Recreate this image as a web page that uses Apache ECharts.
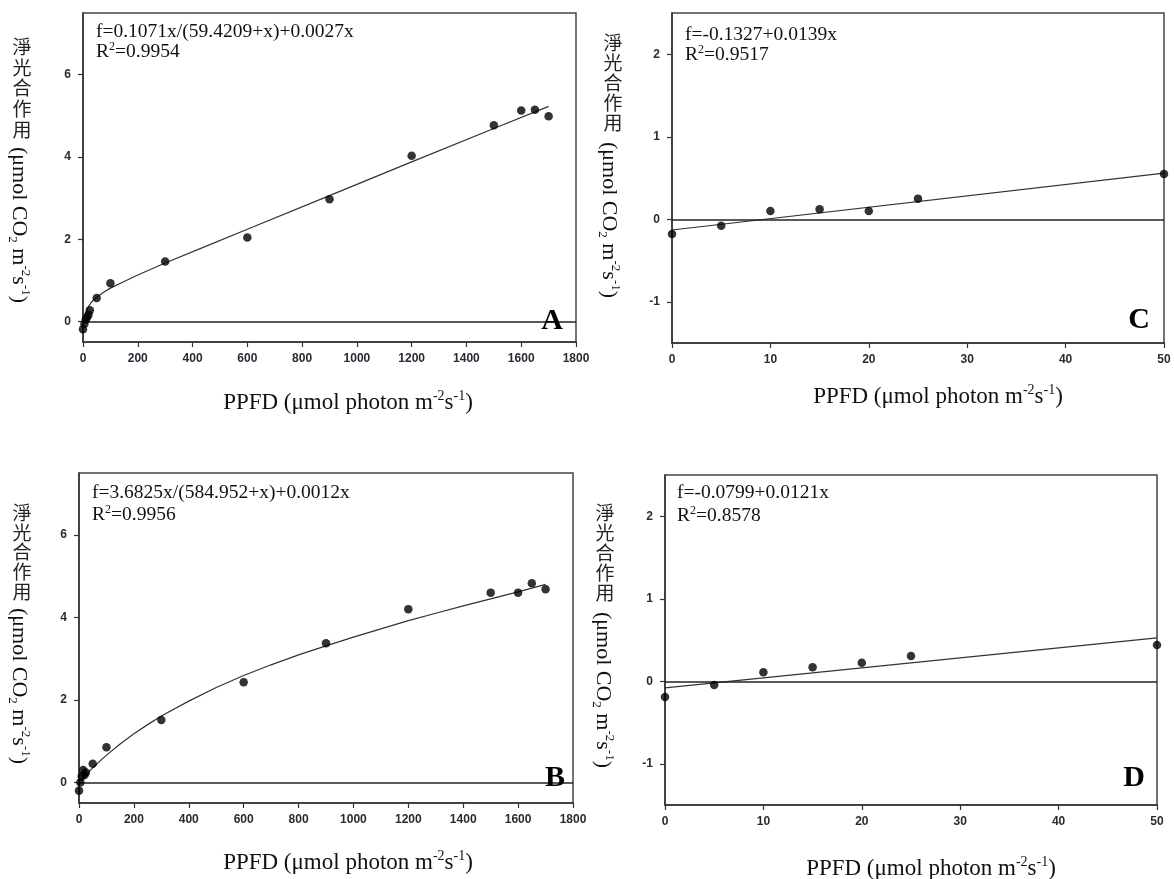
<!DOCTYPE html>
<html>
<head>
<meta charset="utf-8">
<script src="https://cdn.jsdelivr.net/npm/echarts@6/dist/echarts.min.js"></script>
<style>
html,body{margin:0;padding:0;background:#fff;}
#c{width:1174px;height:879px;}
</style>
</head>
<body>
<div id="c"></div>
<script>
// ---------- data ----------
const aX = [0, 5, 10, 15, 20, 25, 50, 100, 300, 600, 900, 1200, 1500, 1600, 1650, 1700];
const aY = [-0.19, -0.06, 0.04, 0.10, 0.16, 0.27, 0.57, 0.93, 1.46, 2.04, 2.97, 4.03, 4.77, 5.13, 5.15, 4.99];
const aFitX = [5, 10, 20, 30, 50, 75, 100, 150, 200, 300, 450, 600, 900, 1200, 1500, 1700];
const aFitY = [0.12, 0.22, 0.36, 0.46, 0.59, 0.71, 0.81, 0.97, 1.13, 1.42, 1.83, 2.24, 3.06, 3.88, 4.69, 5.23];

const bX = [0, 5, 10, 15, 20, 25, 50, 100, 300, 600, 900, 1200, 1500, 1600, 1650, 1700];
const bY = [-0.20, 0.00, 0.15, 0.30, 0.18, 0.24, 0.45, 0.85, 1.51, 2.43, 3.37, 4.20, 4.60, 4.60, 4.83, 4.68];
const bFitX = [5, 15, 25, 50, 75, 100, 150, 200, 250, 300, 400, 500, 600, 700, 800, 900, 1000, 1100, 1200, 1300, 1400, 1500, 1600, 1700];
const bFitY = [0.04, 0.11, 0.18, 0.35, 0.51, 0.66, 0.93, 1.18, 1.40, 1.61, 1.97, 2.30, 2.59, 2.85, 3.09, 3.31, 3.52, 3.72, 3.92, 4.10, 4.28, 4.45, 4.62, 4.80];

const cX = [0, 5, 10, 15, 20, 25, 50];
const cY = [-0.18, -0.08, 0.10, 0.12, 0.10, 0.25, 0.55];
const cFitX = [0, 50];
const cFitY = [-0.13, 0.56];

const dX = [0, 5, 10, 15, 20, 25, 50];
const dY = [-0.19, -0.045, 0.11, 0.17, 0.225, 0.305, 0.44];
const dFitX = [0, 50];
const dFitY = [-0.08, 0.525];

const yTicksBig = [0, 2, 4, 6];
const yTicksSmall = [-1, 0, 1, 2];

const eqA = ['f=0.1071x/(59.4209+x)+0.0027x', '0.9954'];
const eqB = ['f=3.6825x/(584.952+x)+0.0012x', '0.9956'];
const eqC = ['f=-0.1327+0.0139x', '0.9517'];
const eqD = ['f=-0.0799+0.0121x', '0.8578'];
const panelLetters = ['A', 'B', 'C', 'D'];
const yTitleCJK = ['淨', '光', '合', '作', '用'];

// ---------- helpers ----------
const pairs = (xs, ys) => xs.map((x, i) => [x, ys[i]]);
const SERIF = '"Liberation Serif", "Times New Roman", serif';
const SANS = '"Liberation Sans", Arial, sans-serif';

const grids = [
  {left: 83, top: 13, width: 493, height: 329},
  {left: 79, top: 473, width: 494, height: 330},
  {left: 672, top: 13, width: 492, height: 330},
  {left: 665, top: 475, width: 492, height: 330}
].map(g => Object.assign(g, {show: true, borderColor: '#444', borderWidth: 1.5, backgroundColor: 'transparent'}));

const labelStyle = {color: '#2a2a35', fontFamily: SANS, fontSize: 12, fontWeight: 'bold', formatter: v => String(v)};

function xAx(i, max, interval) {
  return {
    type: 'value', gridIndex: i, min: 0, max: max, interval: interval,
    axisLine: {show: true, onZero: false, lineStyle: {color: '#333', width: 1.5}},
    axisTick: {show: true, length: 5, lineStyle: {color: '#333', width: 1.2}},
    axisLabel: Object.assign({margin: 11}, labelStyle),
    splitLine: {show: false}
  };
}
function yAx(i, min, max, ticks) {
  return {
    type: 'value', gridIndex: i, min: min, max: max,
    axisLine: {show: true, onZero: false, lineStyle: {color: '#333', width: 1.5}},
    axisTick: {show: true, length: 5, customValues: ticks, lineStyle: {color: '#333', width: 1.2}},
    axisLabel: Object.assign({margin: 12, customValues: ticks}, labelStyle),
    splitLine: {show: false}
  };
}

function scatter(i, xs, ys) {
  return {
    type: 'scatter', xAxisIndex: i, yAxisIndex: i, data: pairs(xs, ys),
    symbol: 'circle', symbolSize: 8.5, itemStyle: {color: '#000'}, z: 5,
    markLine: {
      silent: true, symbol: ['none', 'none'], label: {show: false},
      lineStyle: {color: '#222', width: 1.5, type: 'solid'},
      data: [{yAxis: 0}]
    }
  };
}
function fit(i, xs, ys) {
  return {
    type: 'line', xAxisIndex: i, yAxisIndex: i, data: pairs(xs, ys),
    showSymbol: false, smooth: false,
    lineStyle: {color: '#333', width: 1.2}, z: 4
  };
}

const richBase = {
  n: {fontFamily: SERIF, fontSize: 23, fill: '#111', lineHeight: 27},
  sup: {fontFamily: SERIF, fontSize: 14, fill: '#111', lineHeight: 14, verticalAlign: 'top'},
  sub: {fontFamily: SERIF, fontSize: 14, fill: '#111', lineHeight: 14, verticalAlign: 'bottom'}
};
const richY = {
  n: {fontFamily: SERIF, fontSize: 22, fill: '#111', lineHeight: 26},
  sup: {fontFamily: SERIF, fontSize: 13, fill: '#111', lineHeight: 13, verticalAlign: 'top'},
  sub: {fontFamily: SERIF, fontSize: 13, fill: '#111', lineHeight: 13, verticalAlign: 'bottom'}
};
const eqRich = {
  n: {fontFamily: SERIF, fontSize: 19.5, fill: '#111', lineHeight: 23},
  sup: {fontFamily: SERIF, fontSize: 12, fill: '#111', lineHeight: 12, verticalAlign: 'top'}
};

const graphics = [];
function yTitle(cx, firstY, step, rcx, rcy) {
  yTitleCJK.forEach((ch, k) => {
    graphics.push({type: 'text', x: cx, y: firstY + k * step, silent: true,
      style: {text: ch, fontFamily: '"Noto Sans CJK TC", "Noto Sans CJK SC", sans-serif', fontSize: 19,
        fill: '#222', align: 'center', verticalAlign: 'middle'}});
  });
  graphics.push({type: 'text', x: rcx, y: rcy, rotation: -Math.PI / 2, silent: true,
    style: {text: '{n|(μmol CO}{sub|2}{n| m}{sup|-2}{n|s}{sup|-1}{n|)}', rich: richY,
      align: 'center', verticalAlign: 'middle'}});
}
function xTitle(cx, cy) {
  graphics.push({type: 'text', x: cx, y: cy, silent: true,
    style: {text: '{n|PPFD (μmol photon m}{sup|-2}{n|s}{sup|-1}{n|)}', rich: richBase,
      align: 'center', verticalAlign: 'middle'}});
}
function equation(x, y1, y2, eq) {
  graphics.push({type: 'text', x: x, y: y1, silent: true,
    style: {text: '{n|' + eq[0] + '}', rich: eqRich, align: 'left', verticalAlign: 'middle'}});
  graphics.push({type: 'text', x: x, y: y2, silent: true,
    style: {text: '{n|R}{sup|2}{n|=' + eq[1] + '}', rich: eqRich, align: 'left', verticalAlign: 'middle'}});
}
function letter(x, y, t) {
  graphics.push({type: 'text', x: x, y: y, silent: true, z: 10,
    style: {text: t, fontFamily: SERIF, fontSize: 30, fontWeight: 'bold', fill: '#000',
      align: 'center', verticalAlign: 'middle'}});
}

// panel A
yTitle(22, 47, 20.6, 19, 225);
xTitle(348, 403);
equation(96, 32, 52, eqA);
letter(552, 321, panelLetters[0]);
// panel B
yTitle(22, 513, 19.6, 19, 686);
xTitle(348, 863);
equation(92, 493, 515, eqB);
letter(555, 778, panelLetters[1]);
// panel C
yTitle(613, 43, 20, 609, 220);
xTitle(938, 397);
equation(685, 35, 55, eqC);
letter(1139, 320, panelLetters[2]);
// panel D
yTitle(605, 513, 20, 603, 690);
xTitle(931, 869);
equation(677, 493, 516, eqD);
letter(1134, 778, panelLetters[3]);

const chart = echarts.init(document.getElementById('c'), null, {renderer: 'canvas'});
chart.setOption({
  animation: false,
  backgroundColor: '#fff',
  grid: grids,
  xAxis: [xAx(0, 1800, 200), xAx(1, 1800, 200), xAx(2, 50, 10), xAx(3, 50, 10)],
  yAxis: [yAx(0, -0.5, 7.5, yTicksBig), yAx(1, -0.5, 7.5, yTicksBig),
          yAx(2, -1.5, 2.5, yTicksSmall), yAx(3, -1.5, 2.5, yTicksSmall)],
  series: [
    scatter(0, aX, aY), fit(0, aFitX, aFitY),
    scatter(1, bX, bY), fit(1, bFitX, bFitY),
    scatter(2, cX, cY), fit(2, cFitX, cFitY),
    scatter(3, dX, dY), fit(3, dFitX, dFitY)
  ],
  graphic: graphics
});
</script>
</body>
</html>
